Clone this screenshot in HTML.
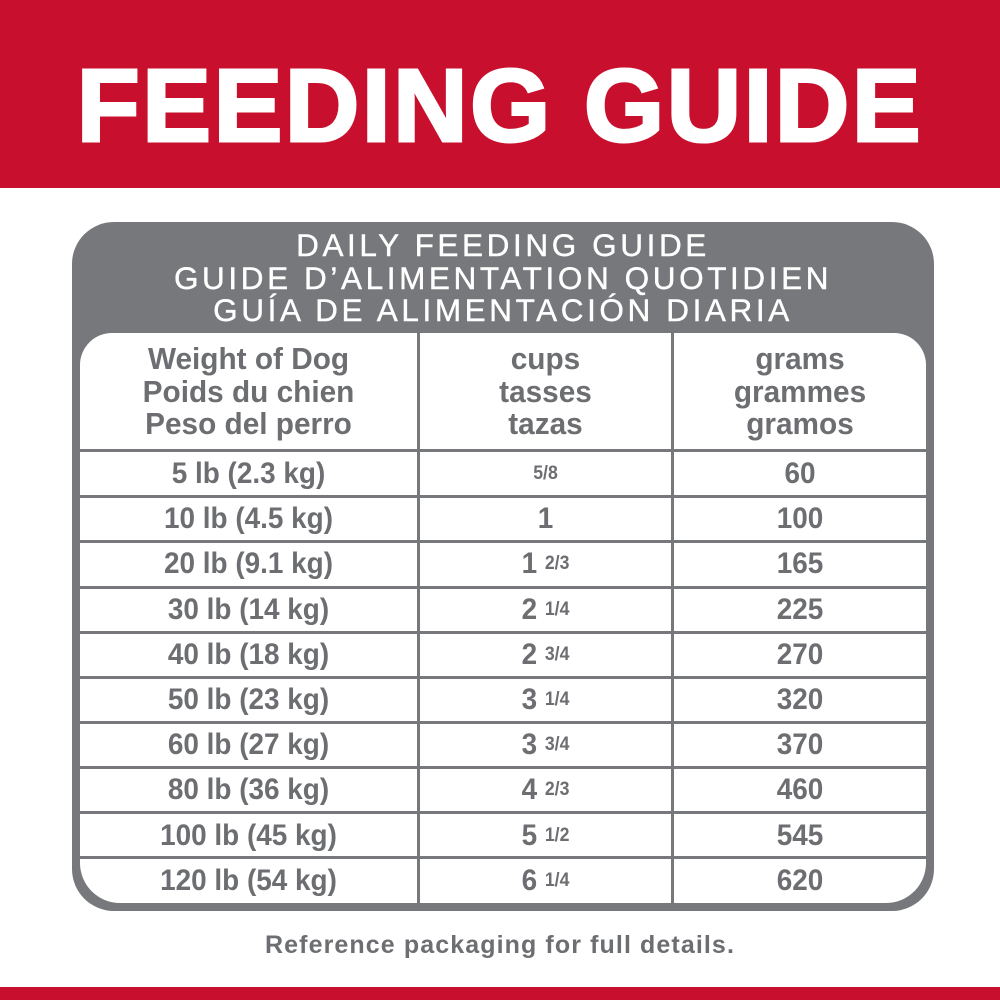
<!DOCTYPE html>
<html><head><meta charset="utf-8"><style>
*{margin:0;padding:0;box-sizing:border-box}
body{width:1000px;height:1000px;background:#fff;position:relative;overflow:hidden;font-family:"Liberation Sans",sans-serif}
.hdr{position:absolute;left:0;top:0;width:1000px;height:188px;background:#c8102e}
.title{position:absolute;left:0;top:46px;width:1000px;text-align:center;color:#fff;font-weight:bold;font-size:103px;line-height:120px;-webkit-text-stroke:3px #fff;letter-spacing:2.6px}
.box{position:absolute;left:72px;top:222px;width:862px;height:689px;background:#77787b;border-radius:42px}
.sub{position:absolute;left:72px;top:229px;width:862px;text-align:center;color:#fff;font-size:31.5px;line-height:32.5px;letter-spacing:3.6px;-webkit-text-stroke:0.4px #fff}
.inner{position:absolute;left:80px;top:333px;width:846px;height:570px;background:#fff;border-radius:32px 32px 40px 40px;overflow:hidden}
.vl{position:absolute;top:0;width:3px;height:570px;background:#77787b}
.hl{position:absolute;left:0;width:846px;height:3px;background:#77787b}
.c{position:absolute;text-align:center;color:#6d6e71;font-weight:bold;font-size:30px;transform:scaleX(0.93)}
.h{transform:scaleX(0.96);font-size:31px}
.f{font-size:19px;position:relative;top:-4px}
.foot{position:absolute;left:0;top:931px;width:1000px;text-align:center;color:#6d6e71;font-weight:bold;font-size:25px;letter-spacing:1.1px}
.bot{position:absolute;left:0;top:987px;width:1000px;height:13px;background:#c8102e}
</style></head><body>
<div class="hdr"></div>
<div class="title">FEEDING GUIDE</div>
<div class="box"></div>
<div class="sub">DAILY FEEDING GUIDE<br>GUIDE D’ALIMENTATION QUOTIDIEN<br>GUÍA DE ALIMENTACIÓN DIARIA</div>
<div class="inner">
<div class="vl" style="left:337px"></div>
<div class="vl" style="left:591px"></div>
<div class="hl" style="top:116px"></div>
<div class="hl" style="top:162px"></div>
<div class="hl" style="top:207px"></div>
<div class="hl" style="top:253px"></div>
<div class="hl" style="top:298px"></div>
<div class="hl" style="top:343px"></div>
<div class="hl" style="top:388px"></div>
<div class="hl" style="top:433px"></div>
<div class="hl" style="top:478px"></div>
<div class="hl" style="top:523px"></div>
<div class="c h" style="left:0;width:337px;top:10px;line-height:32.5px">Weight of Dog<br>Poids du chien<br>Peso del perro</div>
<div class="c h" style="left:340px;width:251px;top:10px;line-height:32.5px">cups<br>tasses<br>tazas</div>
<div class="c h" style="left:594px;width:252px;top:10px;line-height:32.5px">grams<br>grammes<br>gramos</div>
</div>
<div id="rows"></div>
<div class="foot">Reference packaging for full details.</div>
<div class="bot"></div>
<script>
var d=[["5 lb (2.3 kg)",'<span class="f">5/8</span>',"60"],["10 lb (4.5 kg)","1","100"],["20 lb (9.1 kg)",'1 <span class="f">2/3</span>',"165"],["30 lb (14 kg)",'2 <span class="f">1/4</span>',"225"],["40 lb (18 kg)",'2 <span class="f">3/4</span>',"270"],["50 lb (23 kg)",'3 <span class="f">1/4</span>',"320"],["60 lb (27 kg)",'3 <span class="f">3/4</span>',"370"],["80 lb (36 kg)",'4 <span class="f">2/3</span>',"460"],["100 lb (45 kg)",'5 <span class="f">1/2</span>',"545"],["120 lb (54 kg)",'6 <span class="f">1/4</span>',"620"]];
var h="";var xs=[[80,337],[420,251],[674,252]];
for(var i=0;i<d.length;i++){var t=451+i*45.2;for(var j=0;j<3;j++){h+='<div class="c" style="left:'+xs[j][0]+'px;width:'+xs[j][1]+'px;top:'+t+'px;line-height:45px">'+d[i][j]+'</div>';}}
document.getElementById("rows").innerHTML=h;
</script>
</body></html>
